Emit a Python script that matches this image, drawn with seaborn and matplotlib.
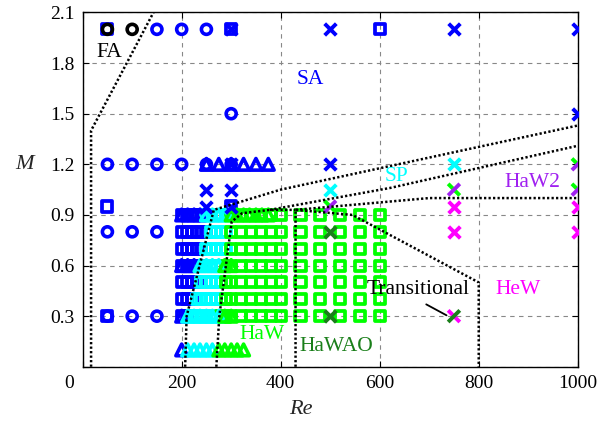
import numpy as np
import pandas as pd
import matplotlib
matplotlib.use("Agg")
import matplotlib.pyplot as plt
from matplotlib.path import Path
from matplotlib.transforms import ScaledTranslation
import seaborn as sns

# ---------------- data ----------------
BLUE, CYAN, GREEN = "#0000ff", "#00ffff", "#00ff00"
DGREEN, MAGENTA, PURPLE = "#1a7f1a", "#ff00ff", "#a020f0"

# dense square grid (Re columns, M rows) and where each row turns cyan / green
grid_re = [200, 210, 220, 230, 240, 250, 260, 270, 280, 290, 300,
           320, 340, 360, 380, 400, 440, 480, 520, 560, 600]
grid_m = [0.3, 0.4, 0.5, 0.6, 0.7, 0.8, 0.9]
cyan_from = [220, 230, 240, 250, 250, 260, 250]
green_from = [280, 290, 290, 290, 300, 300, 300]

# triangle runs
tri_re = [200, 212, 225, 237, 250, 262, 275, 287, 300, 312, 325, 337, 350, 362, 375]
tri_m = [0.1, 0.3, 0.6, 0.9]
tri_stop = [325, 300, 300, 375]
tri_cyan_from = [210, 212, 237, 250]
tri_green_from = [270, 280, 287, 300]
tri12_re = [250, 275, 300, 325, 350, 375]
tri12_m = [1.2, 1.2, 1.2, 1.2, 1.2, 1.2]

# open circles
circ_re = [150, 200, 250, 300, 50, 100, 150, 200, 250, 300, 50, 100, 150, 50, 100, 150]
circ_m = [2.0, 2.0, 2.0, 1.5, 1.2, 1.2, 1.2, 1.2, 1.2, 1.2, 0.8, 0.8, 0.8, 0.3, 0.3, 0.3]
circ_k_re = [50, 100]
circ_k_m = [2.0, 2.0]

# isolated blue squares
bsq_re = [50, 300, 600, 50, 300, 50]
bsq_m = [2.0, 2.0, 2.0, 0.95, 0.95, 0.3]

# single colour crosses
x_re = [500, 750, 1000, 1000, 250, 300, 500, 250, 300, 300, 300,
        500, 750, 750, 750, 1000, 1000, 500, 500]
x_m = [2.0, 2.0, 2.0, 1.5, 1.05, 1.05, 1.2, 0.95, 0.95, 2.0, 1.2,
       1.05, 1.2, 0.95, 0.8, 0.95, 0.8, 0.8, 0.3]
x_col = [BLUE] * 11 + [CYAN, CYAN, MAGENTA, MAGENTA, MAGENTA, MAGENTA, DGREEN, DGREEN]

# two colour crosses (one stroke each)
x2_re = [500, 750, 1000, 1000, 750]
x2_m = [0.95, 1.05, 1.2, 1.05, 0.3]
x2_slash = [PURPLE, PURPLE, PURPLE, PURPLE, DGREEN]
x2_back = [GREEN, GREEN, GREEN, GREEN, MAGENTA]

# regime boundaries (dotted)
bounds = {
    "fa": ([17, 17, 143], [0, 1.4, 2.1]),
    "sa": ([207, 210, 265, 400, 1000], [0, 0.3, 0.93, 1.05, 1.43]),
    "haw": ([270, 276, 301, 322, 378, 430], [0, 0.3, 0.86, 0.91, 0.93, 0.93]),
    "sp": ([378, 621, 1000], [0.93, 1.06, 1.31]),
    "haw2": ([430, 700, 1000], [0.93, 1.0, 1.0]),
    "hawao": ([430, 430, 545, 800, 800], [0, 0.93, 0.9, 0.5, 0]),
}

labels = [("FA", 28, 1.86, "k"), ("SA", 460, 1.70, BLUE), ("SP", 634, 1.13, CYAN),
          ("HaW2", 908, 1.09, PURPLE), ("HeW", 880, 0.46, MAGENTA),
          ("Transitional", 678, 0.46, "k"), ("HaW", 362, 0.19, GREEN),
          ("HaWAO", 513, 0.12, DGREEN)]

xticks = [0, 200, 400, 600, 800, 1000]
yticks = [0, 0.3, 0.6, 0.9, 1.2, 1.5, 1.8, 2.1]
ytick_labels = ["", "0.3", "0.6", "0.9", "1.2", "1.5", "1.8", "2.1"]

# ---------------- plot ----------------
sns.set_style("ticks")
plt.rcParams["font.family"] = ["Liberation Serif", "DejaVu Serif"]
fig = plt.figure(figsize=(5.99, 4.30), dpi=100)
ax = fig.add_axes([0.138, 0.147, 0.8265, 0.824])

SLASH = Path([(-0.5, -0.5), (0.5, 0.5)], [Path.MOVETO, Path.LINETO])
BACK = Path([(-0.5, 0.5), (0.5, -0.5)], [Path.MOVETO, Path.LINETO])


def open_pts(re, m, color, marker, s, lw=2.6, z=3):
    sns.scatterplot(x=re, y=m, marker=marker, s=s, facecolor="none",
                    edgecolor=color, linewidth=lw, zorder=z, legend=False, ax=ax)


def cross_pts(re, m, color, s=70, lw=2.8, z=5):
    sns.scatterplot(x=re, y=m, marker="x", s=s, color=color,
                    linewidth=lw, zorder=z, legend=False, ax=ax)


# squares of the dense grid
sq = pd.DataFrame([(r, m, c, g) for m, c, g in zip(grid_m, cyan_from, green_from)
                   for r in grid_re], columns=["Re", "M", "c", "g"])
sq["col"] = np.where(sq.Re >= sq.g, GREEN, np.where(sq.Re >= sq.c, CYAN, BLUE))
for col in [BLUE, CYAN, GREEN]:
    d = sq[sq.col == col]
    open_pts(d.Re, d.M, col, "s", 52, lw=2.7)

# triangles
tr = pd.DataFrame([(r, m, c, g) for m, stop, c, g in zip(tri_m, tri_stop, tri_cyan_from, tri_green_from)
                   for r in tri_re if r <= stop], columns=["Re", "M", "c", "g"])
tr["col"] = np.where(tr.Re >= tr.g, GREEN, np.where(tr.Re >= tr.c, CYAN, BLUE))
for col in [BLUE, CYAN, GREEN]:
    d = tr[tr.col == col]
    open_pts(d.Re, d.M, col, "^", 70, z=4)
open_pts(tri12_re, tri12_m, BLUE, "^", 70, z=4)

open_pts(bsq_re, bsq_m, BLUE, "s", 52, lw=2.7)
open_pts(circ_re, circ_m, BLUE, "o", 52, z=4)
open_pts(circ_k_re, circ_k_m, "k", "o", 52, z=4)

for col in [BLUE, CYAN, MAGENTA, DGREEN]:
    idx = [i for i, c in enumerate(x_col) if c == col]
    cross_pts([x_re[i] for i in idx], [x_m[i] for i in idx], col)
for r, m, c1, c2 in zip(x2_re, x2_m, x2_slash, x2_back):
    open_pts([r], [m], c2, BACK, 70, lw=2.8, z=5)
    open_pts([r], [m], c1, SLASH, 70, lw=2.8, z=5)

for xs, ys in bounds.values():
    sns.lineplot(x=xs, y=ys, sort=False, estimator=None, color="k",
                 linewidth=1.8, linestyle=(0, (0.9, 0.9)), ax=ax, zorder=6)

for txt, x, y, c in labels:
    ax.text(x, y, txt, color=c, fontsize=15.5, ha="left" if txt == "FA" else "center",
            va="center", zorder=7)
ax.plot([694, 735], [0.37, 0.305], color="k", lw=1.3, zorder=7)

ax.set_xlim(0, 1000)
ax.set_ylim(0, 2.1)
ax.set_xticks(xticks)
ax.set_yticks(yticks)
ax.set_yticklabels(ytick_labels)
ax.grid(True, linestyle=(0, (4, 4)), color="#888888", linewidth=0.8, zorder=0)
ax.set_axisbelow(True)
ax.tick_params(direction="in", length=4, width=0.8, top=True, right=True,
               labelsize=14, pad=6, colors="k")
for sp in ax.spines.values():
    sp.set_linewidth(1.0)
    sp.set_color("k")

ax.set_xlabel("Re", fontsize=16, style="italic")
ax.set_ylabel("M", fontsize=16, style="italic", rotation=0, va="center")
ax.xaxis.set_label_coords(0.44, -0.095)
ax.yaxis.set_label_coords(-0.117, 0.57)

lab0 = ax.get_xticklabels()[0]
lab0.set_transform(lab0.get_transform() + ScaledTranslation(-0.14, 0, fig.dpi_scale_trans))

fig.savefig("out.png", dpi=100)
